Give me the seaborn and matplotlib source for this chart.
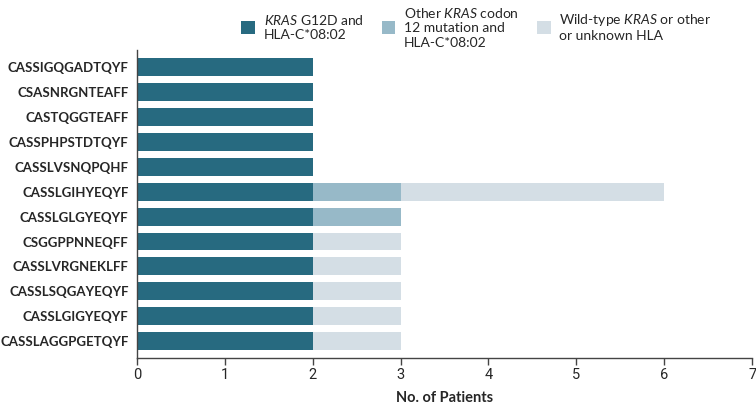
import seaborn as sns
import matplotlib.pyplot as plt
from matplotlib.patches import Patch

# CDR3 sequences, top to bottom
clonotypes = ['CASSIGQGADTQYF', 'CSASNRGNTEAFF', 'CASTQGGTEAFF', 'CASSPHPSTDTQYF',
              'CASSLVSNQPQHF', 'CASSLGIHYEQYF', 'CASSLGLGYEQYF', 'CSGGPPNNEQFF',
              'CASSLVRGNEKLFF', 'CASSLSQGAYEQYF', 'CASSLGIGYEQYF', 'CASSLAGGPGETQYF']
g12d = [2, 2, 2, 2, 2, 2, 2, 2, 2, 2, 2, 2]
other_codon12 = [0, 0, 0, 0, 0, 1, 1, 0, 0, 0, 0, 0]
wild_type = [0, 0, 0, 0, 0, 3, 0, 1, 1, 1, 1, 1]
legend_labels = ['$\\it{KRAS}$ G12D and\nHLA-C*08:02',
                 'Other $\\it{KRAS}$ codon\n12 mutation and\nHLA-C*08:02',
                 'Wild-type $\\it{KRAS}$ or other\nor unknown HLA']

colors = ['#276a80', '#97b9c8', '#d4dee5']

sns.set_style('white')
plt.rcParams['font.family'] = ['Lato', 'DejaVu Sans']
plt.rcParams['mathtext.fontset'] = 'custom'
plt.rcParams['mathtext.rm'] = 'Lato'
plt.rcParams['mathtext.it'] = 'Lato:italic'

fig = plt.figure(figsize=(7.56, 4.04), dpi=100)
ax = fig.add_axes([0.181, 0.114, 0.814, 0.762])

# stacked totals, drawn back to front
total = [a + b + c for a, b, c in zip(g12d, other_codon12, wild_type)]
mid = [a + b for a, b in zip(g12d, other_codon12)]
for vals, col in zip([total, mid, g12d], colors[::-1]):
    sns.barplot(x=vals, y=clonotypes, color=col, orient='h', width=0.72,
                saturation=1, ax=ax, edgecolor='none')

ax.set_xlim(0, 7)
ax.set_ylim(11.66, -0.66)
ax.set_xticks(range(8))
ax.tick_params(axis='x', direction='out', length=5, width=1, color='#444444',
               labelsize=10.5, pad=2, bottom=True)
ax.tick_params(axis='y', length=0, labelsize=9.5, pad=6)
for t in ax.get_yticklabels():
    t.set_fontweight('bold')
for t in ax.get_xticklabels():
    t.set_fontfamily(['Roboto', 'DejaVu Sans'])
    t.set_fontstretch('condensed')
ax.set_xlabel('No. of Patients', fontsize=10.5, fontweight='bold', labelpad=7)
ax.set_ylabel('')
sns.despine(ax=ax, top=True, right=True)
for s in ['left', 'bottom']:
    ax.spines[s].set_color('#444444')
    ax.spines[s].set_linewidth(1)

handles = [Patch(facecolor=c, edgecolor='none') for c in colors]
leg = fig.legend(handles, legend_labels, loc='upper left', bbox_to_anchor=(0.312, 1.0),
                 ncol=3, frameon=False, fontsize=10, handlelength=1.0, handleheight=1.0,
                 handletextpad=0.6, columnspacing=1.3, borderaxespad=0)
for t in leg.get_texts():
    t.set_linespacing(1.25)
# legend handles sit at the top line of each entry
for vp in leg.get_children()[0].get_children()[1].get_children():
    for c in vp.get_children():
        c.align = 'baseline'

fig.savefig('out.png', dpi=100)
